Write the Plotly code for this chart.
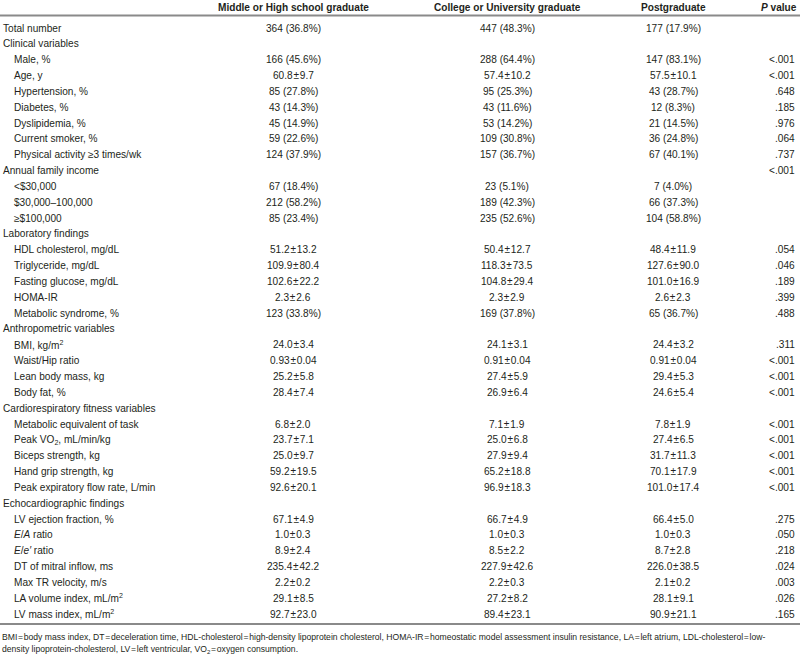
import plotly.graph_objects as go

# ---------------- data ----------------
headers = ["Middle or High school graduate", "College or University graduate",
           "Postgraduate", "<i>P</i> value"]

labels = [
    "Total number", "Clinical variables", "Male, %", "Age, y", "Hypertension, %",
    "Diabetes, %", "Dyslipidemia, %", "Current smoker, %",
    "Physical activity ≥3 times/wk", "Annual family income", "<$30,000",
    "$30,000–100,000", "≥$100,000", "Laboratory findings",
    "HDL cholesterol, mg/dL", "Triglyceride, mg/dL", "Fasting glucose, mg/dL",
    "HOMA-IR", "Metabolic syndrome, %", "Anthropometric variables",
    "BMI, kg/m<sup>2</sup>", "Waist/Hip ratio", "Lean body mass, kg", "Body fat, %",
    "Cardiorespiratory fitness variables", "Metabolic equivalent of task",
    "Peak VO<sub>2</sub>, mL/min/kg", "Biceps strength, kg", "Hand grip strength, kg",
    "Peak expiratory flow rate, L/min", "Echocardiographic findings",
    "LV ejection fraction, %", "<i>E</i>/<i>A</i> ratio", "<i>E</i>/<i>e′</i> ratio",
    "DT of mitral inflow, ms", "Max TR velocity, m/s", "LA volume index, mL/m<sup>2</sup>",
    "LV mass index, mL/m<sup>2</sup>",
]
indented = [0, 0, 1, 1, 1, 1, 1, 1, 1, 0, 1, 1, 1, 0, 1, 1, 1, 1, 1, 0, 1, 1, 1, 1,
            0, 1, 1, 1, 1, 1, 0, 1, 1, 1, 1, 1, 1, 1]

middle_high = [
    "364 (36.8%)", "", "166 (45.6%)", "60.8±9.7", "85 (27.8%)", "43 (14.3%)",
    "45 (14.9%)", "59 (22.6%)", "124 (37.9%)", "", "67 (18.4%)", "212 (58.2%)",
    "85 (23.4%)", "", "51.2±13.2", "109.9±80.4", "102.6±22.2", "2.3±2.6",
    "123 (33.8%)", "", "24.0±3.4", "0.93±0.04", "25.2±5.8", "28.4±7.4", "",
    "6.8±2.0", "23.7±7.1", "25.0±9.7", "59.2±19.5", "92.6±20.1", "",
    "67.1±4.9", "1.0±0.3", "8.9±2.4", "235.4±42.2", "2.2±0.2", "29.1±8.5",
    "92.7±23.0",
]
college = [
    "447 (48.3%)", "", "288 (64.4%)", "57.4±10.2", "95 (25.3%)", "43 (11.6%)",
    "53 (14.2%)", "109 (30.8%)", "157 (36.7%)", "", "23 (5.1%)", "189 (42.3%)",
    "235 (52.6%)", "", "50.4±12.7", "118.3±73.5", "104.8±29.4", "2.3±2.9",
    "169 (37.8%)", "", "24.1±3.1", "0.91±0.04", "27.4±5.9", "26.9±6.4", "",
    "7.1±1.9", "25.0±6.8", "27.9±9.4", "65.2±18.8", "96.9±18.3", "",
    "66.7±4.9", "1.0±0.3", "8.5±2.2", "227.9±42.6", "2.2±0.3", "27.2±8.2",
    "89.4±23.1",
]
postgraduate = [
    "177 (17.9%)", "", "147 (83.1%)", "57.5±10.1", "43 (28.7%)", "12 (8.3%)",
    "21 (14.5%)", "36 (24.8%)", "67 (40.1%)", "", "7 (4.0%)", "66 (37.3%)",
    "104 (58.8%)", "", "48.4±11.9", "127.6±90.0", "101.0±16.9", "2.6±2.3",
    "65 (36.7%)", "", "24.4±3.2", "0.91±0.04", "29.4±5.3", "24.6±5.4", "",
    "7.8±1.9", "27.4±6.5", "31.7±11.3", "70.1±17.9", "101.0±17.4", "",
    "66.4±5.0", "1.0±0.3", "8.7±2.8", "226.0±38.5", "2.1±0.2", "28.1±9.1",
    "90.9±21.1",
]
p_values = [
    "", "", "<.001", "<.001", ".648", ".185", ".976", ".064", ".737", "<.001",
    "", "", "", "", ".054", ".046", ".189", ".399", ".488", "", ".311", "<.001",
    "<.001", "<.001", "", "<.001", "<.001", "<.001", "<.001", "<.001", "",
    ".275", ".050", ".218", ".024", ".003", ".026", ".165",
]
footnotes = [
    "BMI=body mass index, DT=deceleration time, HDL-cholesterol=high-density lipoprotein cholesterol, "
    "HOMA-IR=homeostatic model assessment insulin resistance, LA=left atrium, LDL-cholesterol=low-",
    "density lipoprotein-cholesterol, LV=left ventricular, VO<sub>2</sub>=oxygen consumption.",
]

# ---------------- layout constants ----------------
W, H = 800, 657
ROW0_PX, ROW_PX = 28.0, 15.84
FONT = "Liberation Sans, Arial, sans-serif"
SIZE = 10.1
TXT = "#231f20"
LINE = "#8a8a8a"


def px_to_row(p):
    return (p - ROW0_PX) / ROW_PX


def pm(s):
    return s.replace("±", "\u200a±\u200a")


def eq(s):
    return s.replace("=", "\u200a=\u200a")


X_LABEL, X_INDENT = 1, 12
X_COLS = [293, 507, 673]
X_P = 797

fig = go.Figure()
ann = []

# header
for x, h in zip(X_COLS, headers[:3]):
    ann.append(dict(x=x, y=px_to_row(7.5), text=f"<b>{h}</b>", xanchor="center"))
ann.append(dict(x=799, y=px_to_row(7.5), text=f"<b>{headers[3]}</b>", xanchor="right"))

for i, lab in enumerate(labels):
    ann.append(dict(x=X_INDENT if indented[i] else X_LABEL, y=i, text=lab, xanchor="left"))
    for x, col in zip(X_COLS, [middle_high, college, postgraduate]):
        if col[i]:
            ann.append(dict(x=x, y=i, text=pm(col[i]), xanchor="center"))
    if p_values[i]:
        ann.append(dict(x=X_P, y=i, text=p_values[i], xanchor="right"))

for k, fn in enumerate(footnotes):
    ann.append(dict(x=0, y=px_to_row(637 + 12 * k), text=eq(fn), xanchor="left",
                    font=dict(size=8.6, family=FONT, color=TXT)))

for a in ann:
    a.setdefault("font", dict(size=SIZE, family=FONT, color=TXT))
    a.update(xref="x", yref="y", showarrow=False, yanchor="middle")

shapes = [
    dict(type="line", xref="x", yref="y", x0=0, x1=W, y0=px_to_row(15.5), y1=px_to_row(15.5),
         line=dict(color=LINE, width=2)),
    dict(type="line", xref="x", yref="y", x0=0, x1=W, y0=px_to_row(624), y1=px_to_row(624),
         line=dict(color=LINE, width=2)),
]

fig.update_layout(
    width=W, height=H, margin=dict(l=0, r=0, t=0, b=0),
    paper_bgcolor="white", plot_bgcolor="white",
    xaxis=dict(range=[0, W], visible=False, fixedrange=True),
    yaxis=dict(range=[px_to_row(H), px_to_row(0)], visible=False, fixedrange=True),
    annotations=ann, shapes=shapes, showlegend=False,
)
fig.write_html(
    "out.html",
    config={"displayModeBar": False},
    post_script="document.body.style.margin='0';document.body.style.overflow='hidden';",
)
